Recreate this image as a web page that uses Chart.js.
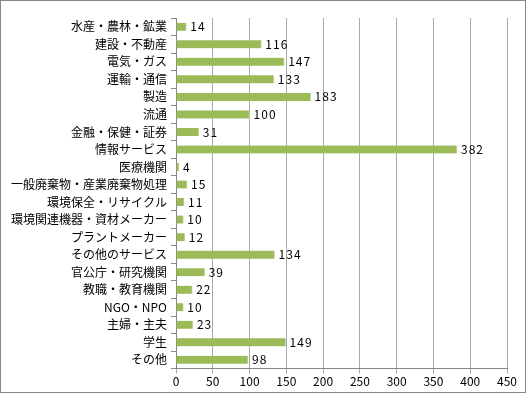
<!DOCTYPE html>
<html>
<head>
<meta charset="utf-8">
<script src="https://cdn.jsdelivr.net/npm/chart.js@4/dist/chart.umd.min.js"></script>
<style>
  body { margin: 0; background: #fff; }
  #box { width: 524px; height: 391px; border: 1px solid #888; position: relative; }
</style>
</head>
<body>
<div id="box"><canvas id="grafico"></canvas></div>
<script>
// Categorias e valores
const categorias = ['水産・農林・鉱業', '建設・不動産', '電気・ガス', '運輸・通信', '製造', '流通',
  '金融・保健・証券', '情報サービス', '医療機関', '一般廃棄物・産業廃棄物処理', '環境保全・リサイクル',
  '環境関連機器・資材メーカー', 'プラントメーカー', 'その他のサービス', '官公庁・研究機関',
  '教職・教育機関', 'NGO・NPO', '主婦・主夫', '学生', 'その他'];
const valores = [14, 116, 147, 133, 183, 100, 31, 382, 4, 15, 11, 10, 12, 134, 39, 22, 10, 23, 149, 98];
const eixoMax = 450;
const eixoPasso = 50;

const fonte = "'Noto Sans CJK JP', sans-serif";

// Rótulos no fim de cada barra
const rotulos = {
  id: 'rotulos',
  afterDatasetsDraw(chart) {
    const ctx = chart.ctx;
    ctx.save();
    ctx.font = '12px ' + fonte;
    ctx.letterSpacing = '1px';
    ctx.fillStyle = '#000';
    ctx.textBaseline = 'middle';
    chart.getDatasetMeta(0).data.forEach((bar, i) => {
      ctx.fillText(String(valores[i]), bar.x + 4, bar.y);
    });
    ctx.restore();
  }
};

new Chart(document.getElementById('grafico'), {
  type: 'bar',
  data: {
    labels: categorias,
    datasets: [{
      data: valores,
      backgroundColor: '#9BBB59',
      borderColor: '#c3d69b',
      borderWidth: { right: 1, top: 0, bottom: 0 },
      borderSkipped: 'left',
      barThickness: 8
    }]
  },
  options: {
    indexAxis: 'y',
    responsive: true,
    maintainAspectRatio: false,
    animation: false,
    layout: { padding: { top: 17, right: 18, left: 6, bottom: 2 } },
    plugins: {
      legend: { display: false },
      tooltip: { enabled: false }
    },
    scales: {
      x: {
        min: 0,
        max: eixoMax,
        ticks: { stepSize: eixoPasso, color: '#000', font: { family: fonte, size: 12 }, padding: 1 },
        grid: { color: '#aaa', tickLength: 5, drawTicks: true },
        border: { color: '#888' }
      },
      y: {
        ticks: { color: '#000', font: { family: fonte, size: 12 }, padding: 4, autoSkip: false },
        grid: { offset: true, drawOnChartArea: false, color: '#888', tickLength: 5 },
        border: { color: '#888' }
      }
    }
  },
  plugins: [rotulos]
});
</script>
</body>
</html>
